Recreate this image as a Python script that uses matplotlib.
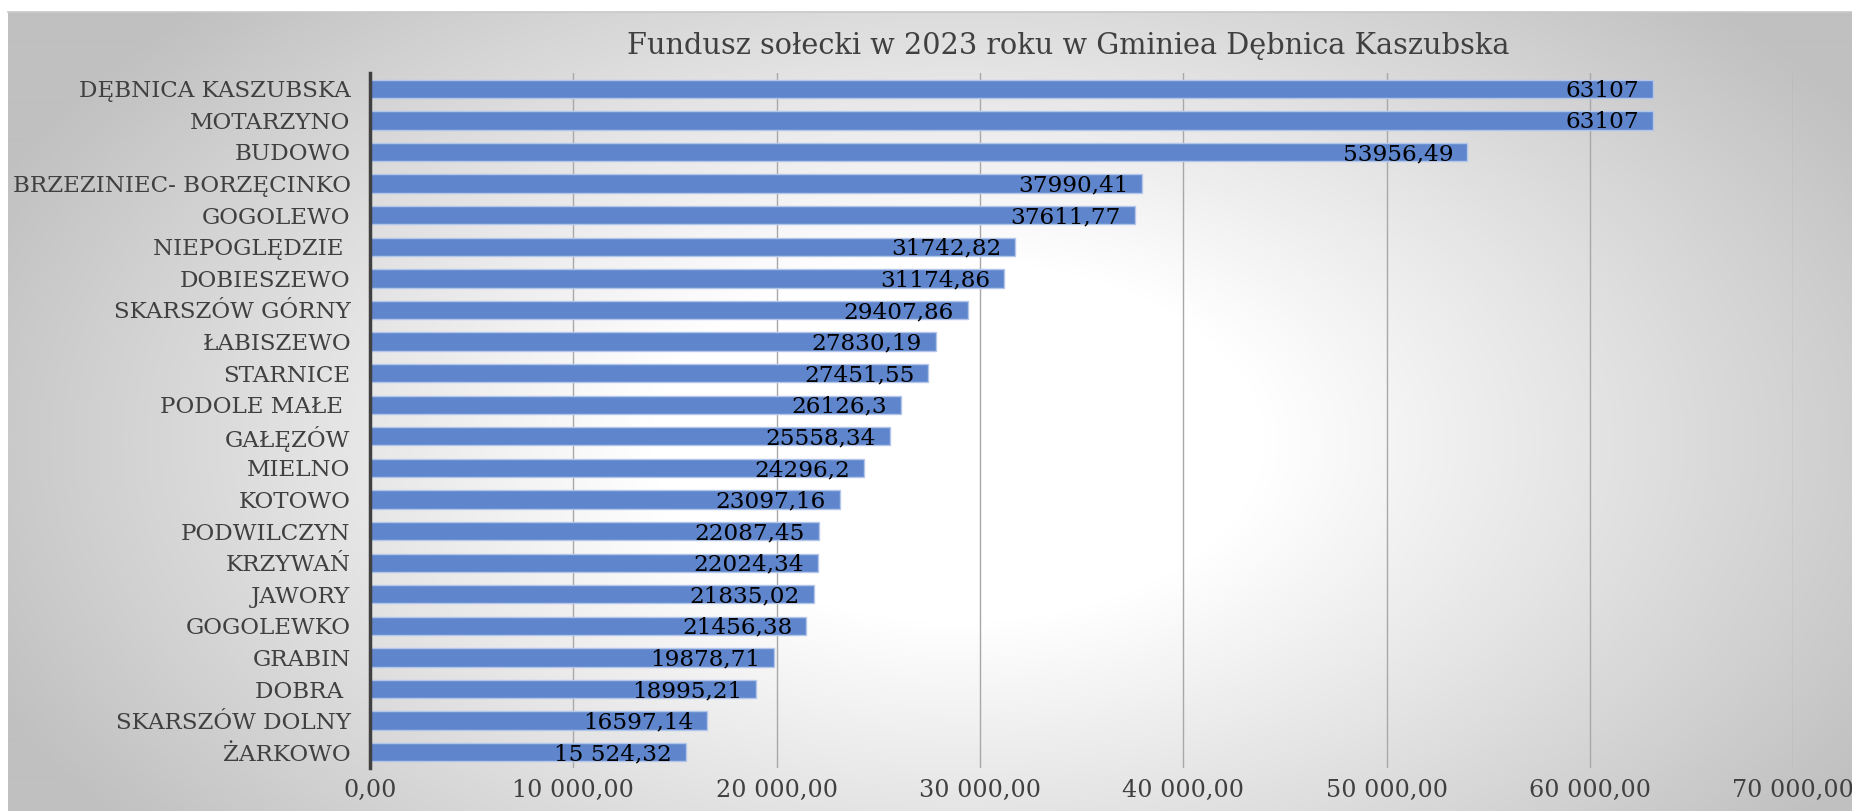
import numpy as np
from matplotlib import pyplot as plt
from matplotlib.colors import LinearSegmentedColormap

# data (top to bottom)
villages = ["DĘBNICA KASZUBSKA", "MOTARZYNO", "BUDOWO", "BRZEZINIEC- BORZĘCINKO",
            "GOGOLEWO", "NIEPOGLĘDZIE ", "DOBIESZEWO", "SKARSZÓW GÓRNY", "ŁABISZEWO",
            "STARNICE", "PODOLE MAŁE ", "GAŁĘZÓW", "MIELNO", "KOTOWO", "PODWILCZYN",
            "KRZYWAŃ", "JAWORY", "GOGOLEWKO", "GRABIN", "DOBRA ", "SKARSZÓW DOLNY", "ŻARKOWO"]
amounts = [63107, 63107, 53956.49, 37990.41, 37611.77, 31742.82, 31174.86, 29407.86,
           27830.19, 27451.55, 26126.3, 25558.34, 24296.2, 23097.16, 22087.45, 22024.34,
           21835.02, 21456.38, 19878.71, 18995.21, 16597.14, 15524.32]
amount_labels = ["63107", "63107", "53956,49", "37990,41", "37611,77", "31742,82",
                 "31174,86", "29407,86", "27830,19", "27451,55", "26126,3", "25558,34",
                 "24296,2", "23097,16", "22087,45", "22024,34", "21835,02", "21456,38",
                 "19878,71", "18995,21", "16597,14", "15 524,32"]
x_ticks = [0, 10000, 20000, 30000, 40000, 50000, 60000, 70000]
title = "Fundusz sołecki w 2023 roku w Gminiea Dębnica Kaszubska"

plt.rcParams['font.family'] = ['DejaVu Serif']
text_grey = "#404040"

fig = plt.figure(figsize=(18.52, 8.11), dpi=100)
fig.patch.set_facecolor("white")

# radial grey background panel
bg = fig.add_axes([0.0045, 0, 0.9955, 0.985], zorder=-10)
yy, xx = np.mgrid[0:800, 0:1844]
u = (xx - 950) / 1844
v = (yy - 430) / 800
d = np.sqrt((u / 0.55) ** 2 + (v / 0.75) ** 2)
t = np.clip((d - 0.3) / 0.75, 0, 1)
grad = LinearSegmentedColormap.from_list("g", ["#ffffff", "#c0c0c0"])
bg.imshow(t, cmap=grad, aspect="auto", vmin=0, vmax=1, interpolation="bilinear")
bg.set_axis_off()
fig.add_artist(plt.Line2D([0.0045, 1], [0.985, 0.985], color="#c8c8c8", lw=1.2))

ax = fig.add_axes([0.1998, 0.053, 0.7685, 0.857])
ax.set_facecolor("none")

y = np.arange(len(villages))
ax.barh(y, amounts, height=0.58, color="#5f86cd", edgecolor="#b3c6ea", linewidth=1, zorder=3)
for yi, val, lab in zip(y, amounts, amount_labels):
    ax.annotate(lab, (val, yi), xytext=(-10, -1.5), textcoords="offset points",
                ha="right", va="center", fontsize=16.7, color="black", zorder=4)

ax.set_xlim(0, 70000)
ax.set_ylim(len(villages) - 0.5, -0.5)
ax.set_yticks(y)
ax.set_yticklabels(villages, fontsize=16.6, color=text_grey)
ax.set_xticks(x_ticks)
ax.set_xticklabels([f"{v:,.2f}".replace(",", " ").replace(".", ",") for v in x_ticks],
                   fontsize=17.2, color=text_grey)
ax.tick_params(axis="y", length=0, pad=14)
ax.tick_params(axis="x", length=0, pad=8)
ax.grid(axis="x", color="#a8a8a8", linewidth=1, zorder=0)
for s in ["top", "right", "bottom"]:
    ax.spines[s].set_visible(False)
ax.spines["left"].set_color("#404040")
ax.spines["left"].set_linewidth(2.5)
ax.spines["left"].set_zorder(5)

fig.text(0.577, 0.943, title, ha="center", va="center", fontsize=20.7, color=text_grey)

fig.savefig("out.png", dpi=100)
